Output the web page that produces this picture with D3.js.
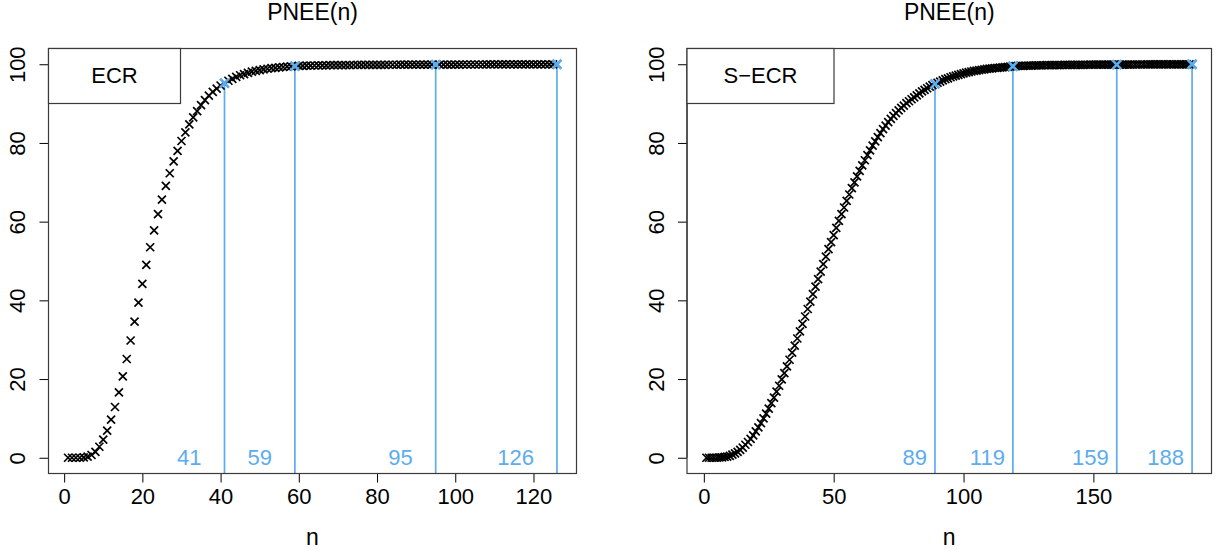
<!DOCTYPE html>
<html>
<head>
<meta charset="utf-8">
<script src="https://cdn.jsdelivr.net/npm/d3@7"></script>
<style>
  html, body { margin: 0; padding: 0; background: #fff; }
  svg { display: block; }
  text { font-family: "Liberation Sans", Arial, Helvetica, sans-serif; }
</style>
</head>
<body>
<svg id="chart" width="1217" height="550"></svg>
<script>
// ---------------- DATA ----------------
const chartTitle = "PNEE(n)";
const xLabel = "n";
const legendLeft = "ECR";
const legendRight = "S\u2212ECR";

// PNEE(n) for ECR, n = 1..126
const ecrValues = [
  0, 0, 0, 0, 0.1, 0.3, 0.7, 1.5, 2.8, 4.6,
  6.9, 9.7, 12.9, 16.6, 20.7, 25.1, 29.8, 34.6, 39.4, 44.2,
  49.0, 53.5, 57.8, 61.9, 65.6, 69.1, 72.3, 75.3, 78.0, 80.5,
  82.7, 84.7, 86.5, 88.1, 89.6, 90.9, 92.0, 93.0, 93.8, 94.6,
  95.2, 95.8, 96.3, 96.8, 97.2, 97.5, 97.8, 98.1, 98.3, 98.5,
  98.7, 98.85, 99.0, 99.1, 99.2, 99.3, 99.38, 99.45, 99.52, 99.57,
  99.6, 99.63, 99.66, 99.68, 99.7, 99.72, 99.73, 99.75, 99.76, 99.77,
  99.78, 99.79, 99.8, 99.81, 99.82, 99.83, 99.83, 99.84, 99.85, 99.85,
  99.86, 99.86, 99.87, 99.87, 99.87, 99.88, 99.88, 99.88, 99.89, 99.89,
  99.89, 99.89, 99.89, 99.89, 99.9, 99.91, 99.91, 99.91, 99.92, 99.92,
  99.92, 99.93, 99.93, 99.93, 99.94, 99.94, 99.94, 99.95, 99.95, 99.95,
  99.95, 99.96, 99.96, 99.96, 99.96, 99.97, 99.97, 99.97, 99.97, 99.97,
  99.98, 99.98, 99.98, 99.98, 99.98, 99.99
];

// PNEE(n) for S-ECR, n = 1..188
const secrValues = [
  0, 0, 0, 0, 0, 0.1, 0.1, 0.2, 0.3, 0.5,
  0.8, 1.1, 1.5, 2.0, 2.6, 3.3, 4.0, 4.8, 5.7, 6.7,
  7.7, 8.8, 10.0, 11.2, 12.5, 13.9, 15.3, 16.8, 18.3, 19.9,
  21.5, 23.2, 24.9, 26.7, 28.5, 30.3, 32.1, 34.0, 35.9, 37.8,
  39.7, 41.6, 43.5, 45.4, 47.3, 49.2, 51.1, 53.0, 54.8, 56.6,
  58.4, 60.2, 61.9, 63.6, 65.3, 66.9, 68.5, 70.0, 71.5, 72.9,
  74.3, 75.6, 76.9, 78.1, 79.3, 80.4, 81.5, 82.5, 83.5, 84.4,
  85.3, 86.1, 86.9, 87.6, 88.3, 88.9, 89.5, 90.1, 90.6, 91.1,
  91.6, 92.1, 92.6, 93.1, 93.5, 93.9, 94.3, 94.7, 95.0, 95.3,
  95.6, 95.9, 96.2, 96.4, 96.7, 96.9, 97.1, 97.3, 97.5, 97.7,
  97.85, 98.0, 98.15, 98.3, 98.4, 98.5, 98.6, 98.7, 98.8, 98.9,
  98.97, 99.04, 99.1, 99.16, 99.22, 99.28, 99.34, 99.42, 99.5, 99.53,
  99.56, 99.58, 99.6, 99.62, 99.64, 99.66, 99.68, 99.7, 99.71, 99.73,
  99.74, 99.75, 99.76, 99.77, 99.78, 99.79, 99.8, 99.81, 99.82, 99.83,
  99.83, 99.84, 99.85, 99.85, 99.86, 99.86, 99.87, 99.87, 99.88, 99.88,
  99.88, 99.89, 99.89, 99.89, 99.89, 99.89, 99.89, 99.89, 99.9, 99.9,
  99.91, 99.91, 99.92, 99.92, 99.93, 99.93, 99.93, 99.94, 99.94, 99.94,
  99.95, 99.95, 99.95, 99.96, 99.96, 99.96, 99.96, 99.97, 99.97, 99.97,
  99.97, 99.98, 99.98, 99.98, 99.98, 99.98, 99.98, 99.99
];

const ecrMarks = [41, 59, 95, 126];
const secrMarks = [89, 119, 159, 188];

const ecrXTicks = [0, 20, 40, 60, 80, 100, 120];
const secrXTicks = [0, 50, 100, 150];
const yTicks = [0, 20, 40, 60, 80, 100];

// ---------------- DRAWING ----------------
const svg = d3.select("#chart");
const FONT = 22;
const TITLE_FONT = 23;
const BLUE = "#5CACEE";
const FRAME = "#3a3a3a";

function panel(opts) {
  const { values, marks, xTicks, box, legend, legendBox, labelGap } = opts;
  const n = values.length;
  const data = values.map((v, i) => ({ n: i + 1, v }));
  const pad = (n - 1) * 0.04;
  const x = d3.scaleLinear().domain([1 - pad, n + pad]).range([box.left, box.right]);
  const y = d3.scaleLinear().domain([-4, 104]).range([box.bottom, box.top]);

  const g = svg.append("g");

  // axes
  const xAxis = d3.axisBottom(x).tickValues(xTicks).tickSize(9).tickPadding(6)
    .tickFormat(d3.format("d"));
  const gx = g.append("g").attr("transform", `translate(0,${box.bottom})`).call(xAxis);
  gx.select(".domain").attr("d", `M${x(xTicks[0])},0H${x(xTicks[xTicks.length - 1])}`);
  gx.selectAll("text").attr("font-size", FONT).attr("fill", "#000")
    .attr("font-family", '"Liberation Sans", Arial, sans-serif');
  gx.selectAll("line, path").attr("stroke", "#000");

  const yAxis = d3.axisLeft(y).tickValues(yTicks).tickSize(9).tickFormat(d3.format("d"));
  const gy = g.append("g").attr("transform", `translate(${box.left},0)`).call(yAxis);
  gy.select(".domain").attr("d", `M0,${y(yTicks[0])}V${y(yTicks[yTicks.length - 1])}`);
  gy.selectAll("line, path").attr("stroke", "#000");
  gy.selectAll("text").remove();
  gy.selectAll(".tick").append("text")
    .attr("transform", "rotate(-90)")
    .attr("x", 0).attr("y", -31)
    .attr("text-anchor", "middle")
    .attr("dy", "0.35em")
    .attr("font-size", FONT)
    .attr("fill", "#000")
    .text(d => d3.format("d")(d));

  // blue vertical segments
  g.append("g").selectAll("line").data(marks).join("line")
    .attr("x1", d => x(d)).attr("x2", d => x(d))
    .attr("y1", box.bottom).attr("y2", d => y(values[d - 1]))
    .attr("stroke", BLUE).attr("stroke-width", 1.7);

  // points
  const cross = "M-4,-4L4,4M-4,4L4,-4";
  g.append("g").selectAll("path").data(data).join("path")
    .attr("transform", d => `translate(${x(d.n)},${y(d.v)})`)
    .attr("d", cross).attr("stroke", "#000").attr("stroke-width", 1.7).attr("fill", "none");

  // blue marks on top
  const bigCross = "M-4.5,-4.5L4.5,4.5M-4.5,4.5L4.5,-4.5";
  g.append("g").selectAll("path").data(marks).join("path")
    .attr("transform", d => `translate(${x(d)},${y(values[d - 1])})`)
    .attr("d", bigCross).attr("stroke", BLUE).attr("stroke-width", 2.6).attr("fill", "none");

  // blue labels
  g.append("g").selectAll("text").data(marks).join("text")
    .attr("x", d => x(d) - labelGap)
    .attr("y", y(0))
    .attr("dy", "0.35em")
    .attr("text-anchor", "end")
    .attr("font-size", FONT)
    .attr("fill", BLUE)
    .text(d => d);

  // frame
  g.append("rect")
    .attr("x", box.left).attr("y", box.top)
    .attr("width", box.right - box.left).attr("height", box.bottom - box.top)
    .attr("fill", "none").attr("stroke", FRAME).attr("stroke-width", 1.2);

  // legend
  g.append("rect")
    .attr("x", box.left).attr("y", box.top)
    .attr("width", legendBox.w).attr("height", legendBox.h)
    .attr("fill", "#fff").attr("stroke", FRAME).attr("stroke-width", 1.2);
  g.append("text")
    .attr("x", box.left + legendBox.w / 2).attr("y", box.top + 27)
    .attr("dy", "0.35em").attr("text-anchor", "middle")
    .attr("font-size", FONT).attr("fill", "#000")
    .text(legend);

  // title
  g.append("text")
    .attr("x", (box.left + box.right) / 2).attr("y", 12)
    .attr("dy", "0.35em").attr("text-anchor", "middle")
    .attr("font-size", TITLE_FONT).attr("fill", "#000")
    .text(chartTitle);

  // x label
  g.append("text")
    .attr("x", (box.left + box.right) / 2).attr("y", 537)
    .attr("dy", "0.35em").attr("text-anchor", "middle")
    .attr("font-size", TITLE_FONT).attr("fill", "#000")
    .text(xLabel);
}

panel({
  values: ecrValues, marks: ecrMarks, xTicks: ecrXTicks,
  box: { left: 48.5, right: 576.5, top: 48.5, bottom: 473.5 },
  legend: legendLeft, legendBox: { w: 132, h: 55 }, labelGap: 23
});
panel({
  values: secrValues, marks: secrMarks, xTicks: secrXTicks,
  box: { left: 687, right: 1211.5, top: 48.5, bottom: 473.5 },
  legend: legendRight, legendBox: { w: 147, h: 55 }, labelGap: 8
});
</script>
</body>
</html>
